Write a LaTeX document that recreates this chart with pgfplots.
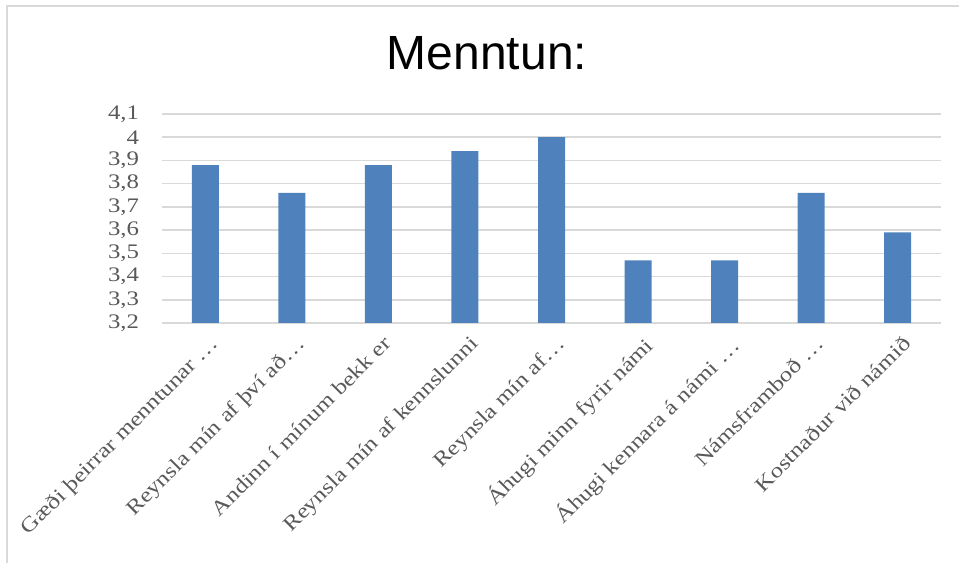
\documentclass[border=0pt]{standalone}
\usepackage{fontspec}
\setmainfont[FakeStretch=1.2]{Liberation Serif}
\newfontfamily\titlefont{Liberation Sans}
\usepackage{pgfplots}
\pgfplotsset{compat=1.18}
\definecolor{barblue}{HTML}{4F81BD}
\definecolor{gridgray}{HTML}{D9D9D9}
\definecolor{labgray}{HTML}{595959}
\begin{document}
\begin{tikzpicture}
\useasboundingbox (0pt,0pt) rectangle (719.25pt,422.25pt);
\draw[gridgray, line width=1.1pt] (5.25pt,0pt) -- (5.25pt,417.75pt) -- (719.25pt,417.75pt);
\node[anchor=base, font=\titlefont\fontsize{36}{40}\selectfont] at (365.25pt,369.75pt) {Menntun:};
\begin{axis}[
  at={(121.5pt,180pt)}, anchor=south west,
  scale only axis, width=584.25pt, height=156.75pt,
  xmin=-0.5, xmax=8.5, ymin=3.2, ymax=4.1,
  ybar, bar width=20.25pt, bar shift=0pt,
  axis line style={draw=none}, tick style={draw=none},
  ymajorgrids, grid style={gridgray, line width=1.1pt},
  ytick={3.2,3.3,3.4,3.5,3.6,3.7,3.8,3.9,4.0,4.1},
  yticklabels={{3,2},{3,3},{3,4},{3,5},{3,6},{3,7},{3,8},{3,9},{4},{4,1}},
  yticklabel style={font=\fontsize{15.5}{17}\selectfont, text=labgray, anchor=east, inner sep=0pt, xshift=-17pt},
  xtick={0,1,2,3,4,5,6,7,8},
  xticklabels={{Gæði þeirrar menntunar …},{Reynsla mín af því að…},{Andinn í mínum bekk er},{Reynsla mín af kennslunni},{Reynsla mín af…},{Áhugi minn fyrir námi},{Áhugi kennara á námi …},{Námsframboð …},{Kostnaður við námið}},
  xticklabel style={font=\fontsize{15.5}{17}\selectfont, text=labgray, rotate=45, anchor=north east, inner sep=0pt, xshift=-1pt, yshift=-5pt},
]
\addplot[fill=barblue, draw=none] coordinates {(0,3.88) (1,3.76) (2,3.88) (3,3.94) (4,4.0) (5,3.47) (6,3.47) (7,3.76) (8,3.59)};
\end{axis}
\end{tikzpicture}
\end{document}
